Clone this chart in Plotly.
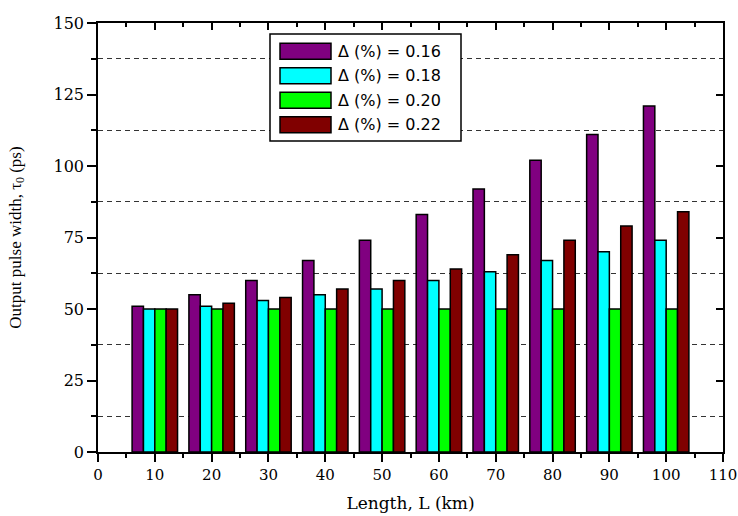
import plotly.graph_objects as go

# ---- data ----
lengths = [10, 20, 30, 40, 50, 60, 70, 80, 90, 100]
delta_016 = [51, 55, 60, 67, 74, 83, 92, 102, 111, 121]
delta_018 = [50, 51, 53, 55, 57, 60, 63, 67, 70, 74]
delta_020 = [50, 50, 50, 50, 50, 50, 50, 50, 50, 50]
delta_022 = [50, 52, 54, 57, 60, 64, 69, 74, 79, 84]
series_names = ["Δ (%) = 0.16", "Δ (%) = 0.18", "Δ (%) = 0.20", "Δ (%) = 0.22"]
series_values = [delta_016, delta_018, delta_020, delta_022]
colors = ["#800080", "#00FFFF", "#00FF00", "#800000"]

W, H = 738, 516
ML, MR, MT, MB = 98, 15, 23, 64
PW, PH = W - ML - MR, H - MT - MB


def px_x(p):
    return (p - ML) / PW


def px_y(p):
    return (H - MB - p) / PH


fig = go.Figure()
for name, vals, col in zip(series_names, series_values, colors):
    fig.add_trace(go.Bar(
        x=lengths, y=vals, name=name,
        marker=dict(color=col, line=dict(color="black", width=1.5)),
        showlegend=False,
    ))

# invisible helper trace to carry the mirrored (top/right) axes
fig.add_trace(go.Scatter(
    x=lengths, y=delta_020, xaxis="x2", yaxis="y2", mode="markers",
    marker=dict(opacity=0), hoverinfo="skip", showlegend=False,
))

fig.update_layout(
    width=W, height=H,
    margin=dict(l=ML, r=MR, t=MT, b=MB, autoexpand=False),
    paper_bgcolor="white", plot_bgcolor="white",
    barmode="group", bargap=0.2, bargroupgap=0,
    xaxis=dict(
        range=[0, 110], tick0=0, dtick=10, automargin=False,
        ticks="outside", ticklen=8, tickwidth=1.5, tickcolor="black",
        minor=dict(dtick=5, ticks="outside", ticklen=4, tickwidth=1.5, tickcolor="black"),
        showline=True, linecolor="black", linewidth=1.5,
        showgrid=False, zeroline=False, ticklabeloverflow="allow",
        tickfont=dict(family="DejaVu Serif", size=15, color="black"),
        title=dict(text="Length, L (km)", font=dict(family="DejaVu Serif", size=17, color="black"), standoff=14),
    ),
    yaxis=dict(
        range=[0, 150], tick0=0, dtick=25, automargin=False,
        ticks="outside", ticklen=9, tickwidth=1.5, tickcolor="black",
        minor=dict(dtick=12.5, ticks="outside", ticklen=5, tickwidth=1.5, tickcolor="black",
                   showgrid=True, griddash="5px,4px", gridcolor="#333333", gridwidth=1.3),
        showline=True, linecolor="black", linewidth=1.5,
        showgrid=False, zeroline=False, ticklabeloverflow="allow",
        tickfont=dict(family="DejaVu Serif", size=16, color="black"),
        title=dict(text="Output pulse width, τ<sub>0</sub> (ps)",
                   font=dict(family="Liberation Serif", size=17, color="black"), standoff=28),
    ),
    xaxis2=dict(
        range=[0, 110], overlaying="x", side="top", anchor="y2", tick0=0, dtick=10,
        automargin=False,
        ticks="inside", ticklen=7, tickwidth=1.5, tickcolor="black",
        minor=dict(dtick=5, ticks="inside", ticklen=4, tickwidth=1.5, tickcolor="black"),
        showline=True, linecolor="black", linewidth=1.5,
        showticklabels=False, showgrid=False, zeroline=False,
    ),
    yaxis2=dict(
        range=[0, 150], overlaying="y", side="right", anchor="x2", tick0=0, dtick=25,
        automargin=False,
        ticks="inside", ticklen=7, tickwidth=1.5, tickcolor="black",
        showline=True, linecolor="black", linewidth=1.5,
        showticklabels=False, showgrid=False, zeroline=False,
    ),
)

# ---- hand-drawn legend (large swatches like the original) ----
box_l, box_r, box_t, box_b = 270, 461, 34, 141
shapes = [dict(type="rect", xref="paper", yref="paper",
               x0=px_x(box_l), x1=px_x(box_r), y0=px_y(box_b), y1=px_y(box_t),
               fillcolor="white", line=dict(color="black", width=1.5), layer="above")]
annotations = []
row_tops = [43.3, 67.8, 92.3, 116.8]
for name, col, top in zip(series_names, colors, row_tops):
    shapes.append(dict(type="rect", xref="paper", yref="paper",
                       x0=px_x(280), x1=px_x(331), y0=px_y(top + 16), y1=px_y(top),
                       fillcolor=col, line=dict(color="black", width=1.5), layer="above"))
    annotations.append(dict(xref="paper", yref="paper", x=px_x(336), y=px_y(top + 8),
                            text=name, showarrow=False, xanchor="left", yanchor="middle",
                            font=dict(family="DejaVu Sans", size=16, color="black")))
fig.update_layout(shapes=shapes, annotations=annotations)

fig.write_html(
    "out.html",
    config={"displayModeBar": False},
    post_script="document.documentElement.style.overflow='hidden';"
                "document.body.style.overflow='hidden';"
                "document.body.style.margin='0';",
)
